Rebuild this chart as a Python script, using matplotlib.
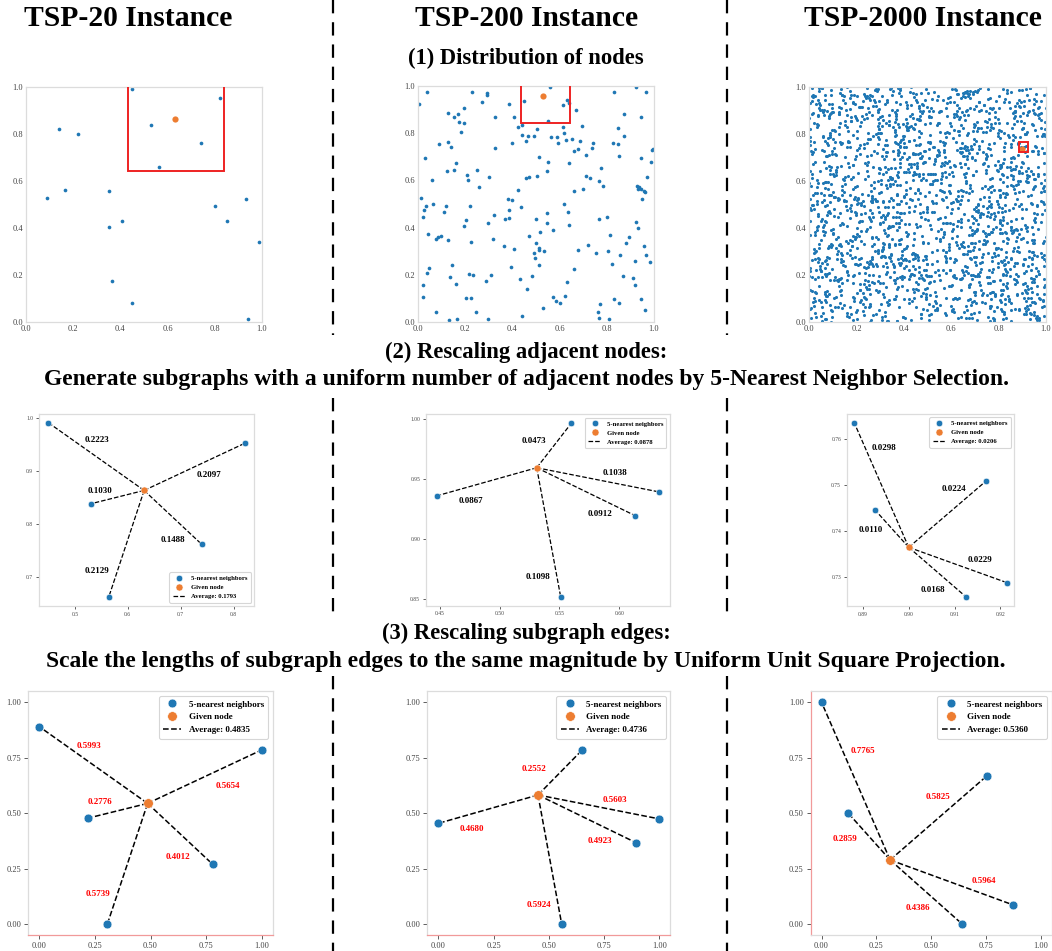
import numpy as np
import matplotlib
matplotlib.use('Agg')
import matplotlib.pyplot as plt
from matplotlib.patches import Rectangle
from matplotlib.lines import Line2D
from matplotlib.ticker import MultipleLocator

plt.rcParams['font.family'] = ['Liberation Serif', 'DejaVu Serif']

# ---------------------------------------------------------------- data
# TSP-20 instance
tsp20_other_x = [0.138, 0.219, 0.165, 0.088, 0.353, 0.405, 0.353, 0.366, 0.448, 0.801, 0.850, 0.931, 0.989, 0.942]
tsp20_other_y = [0.823, 0.800, 0.561, 0.528, 0.559, 0.431, 0.404, 0.175, 0.079, 0.492, 0.428, 0.524, 0.340, 0.013]
tsp20_given = (0.631, 0.863)
tsp20_nb_x = [0.450, 0.821, 0.531, 0.740, 0.564]
tsp20_nb_y = [0.991, 0.952, 0.838, 0.761, 0.661]
tsp20_dist = ["0.2223", "0.2097", "0.1030", "0.1488", "0.2129"]
tsp20_avg = "0.1793"
tsp20_unit_given = (0.487, 0.544)
tsp20_unit_x = [0.000, 1.000, 0.217, 0.780, 0.306]
tsp20_unit_y = [0.890, 0.785, 0.477, 0.269, 0.000]
tsp20_unit_dist = ["0.5993", "0.5654", "0.2776", "0.4012", "0.5739"]
tsp20_unit_avg = "0.4835"

# TSP-200 instance (other nodes)
tsp200_other_x = [
    0.037, 0.006, 0.227, 0.294, 0.294, 0.273, 0.387, 0.196, 0.126, 0.171, 0.153, 0.326, 0.408, 0.174, 0.196,
    0.425, 0.439, 0.181, 0.439, 0.129, 0.090, 0.400, 0.140, 0.328, 0.030, 0.160, 0.124, 0.153, 0.251, 0.206,
    0.210, 0.302, 0.061, 0.258, 0.425, 0.013, 0.383, 0.400,
    0.640, 0.670, 0.616, 0.694, 0.506, 0.468, 0.493, 0.562, 0.589, 0.619, 0.654, 0.686, 0.627, 0.592, 0.458,
    0.743, 0.736, 0.679, 0.660, 0.712, 0.831, 0.925, 0.966, 0.874, 0.945, 0.846, 0.873, 0.828, 0.846, 0.992,
    0.997, 0.852, 0.945, 0.514, 0.552, 0.641, 0.989, 0.775, 0.545, 0.503, 0.472, 0.458, 0.711, 0.729, 0.767,
    0.783, 0.970, 0.927, 0.937, 0.934, 0.945, 0.958, 0.963, 0.661, 0.698, 0.948,
    0.034, 0.027, 0.062, 0.117, 0.112, 0.220, 0.020, 0.041, 0.076, 0.086, 0.097, 0.129, 0.196, 0.203, 0.225,
    0.298, 0.321, 0.316, 0.369, 0.387, 0.387, 0.436, 0.364, 0.408, 0.145, 0.038, 0.048, 0.137, 0.216, 0.232,
    0.020, 0.161, 0.287, 0.311, 0.396, 0.434, 0.020, 0.202, 0.223, 0.076, 0.244, 0.133, 0.167, 0.298, 0.442,
    0.619, 0.545, 0.634, 0.500, 0.545, 0.641, 0.768, 0.802, 0.922, 0.934, 0.517, 0.571, 0.470, 0.814, 0.896,
    0.881, 0.722, 0.958, 0.500, 0.514, 0.514, 0.535, 0.492, 0.679, 0.753, 0.804, 0.857, 0.965, 0.496, 0.824,
    0.921, 0.985, 0.514, 0.662, 0.485, 0.870, 0.912, 0.918, 0.631, 0.463, 0.574, 0.585, 0.600, 0.624, 0.832,
    0.850, 0.945, 0.530, 0.771, 0.764, 0.767, 0.811, 0.963]
tsp200_other_y = [
    0.976, 0.922, 0.973, 0.969, 0.962, 0.934, 0.922, 0.905, 0.886, 0.881, 0.870, 0.867, 0.867, 0.849, 0.842,
    0.828, 0.835, 0.807, 0.794, 0.764, 0.753, 0.757, 0.743, 0.736, 0.696, 0.672, 0.640, 0.643, 0.643, 0.623,
    0.600, 0.614, 0.603, 0.572, 0.558, 0.524, 0.520, 0.517,
    0.927, 0.898, 0.828, 0.832, 0.816, 0.788, 0.788, 0.782, 0.784, 0.801, 0.774, 0.767, 0.771, 0.760, 0.767,
    0.760, 0.737, 0.733, 0.723, 0.706, 0.975, 0.994, 0.973, 0.883, 0.870, 0.821, 0.790, 0.759, 0.756, 0.729,
    0.733, 0.702, 0.696, 0.698, 0.679, 0.675, 0.676, 0.654, 0.638, 0.620, 0.614, 0.612, 0.620, 0.609, 0.597,
    0.578, 0.613, 0.575, 0.572, 0.562, 0.564, 0.555, 0.551, 0.555, 0.562, 0.523,
    0.492, 0.475, 0.500, 0.492, 0.468, 0.492, 0.444, 0.371, 0.350, 0.360, 0.366, 0.346, 0.408, 0.431, 0.340,
    0.418, 0.452, 0.352, 0.438, 0.441, 0.475, 0.486, 0.322, 0.308, 0.240, 0.206, 0.227, 0.189, 0.203, 0.198,
    0.155, 0.160, 0.175, 0.199, 0.232, 0.181, 0.107, 0.103, 0.102, 0.044, 0.041, 0.008, 0.014, 0.011, 0.024,
    0.499, 0.460, 0.465, 0.435, 0.418, 0.411, 0.435, 0.444, 0.424, 0.397, 0.380, 0.390, 0.366, 0.370, 0.359,
    0.333, 0.326, 0.323, 0.335, 0.315, 0.305, 0.302, 0.294, 0.305, 0.291, 0.302, 0.284, 0.284, 0.273, 0.247,
    0.257, 0.254, 0.240, 0.223, 0.195, 0.195, 0.186, 0.157, 0.168, 0.140, 0.107, 0.088, 0.081, 0.109, 0.097,
    0.079, 0.099, 0.058, 0.075, 0.044, 0.016, 0.013, 0.051]
tsp200_given = (0.531, 0.9596)
tsp200_nb_x = [0.560, 0.4477, 0.6328, 0.613, 0.551]
tsp200_nb_y = [0.9969, 0.9362, 0.9395, 0.9197, 0.8518]
tsp200_dist = ["0.0473", "0.0867", "0.1038", "0.0912", "0.1098"]
tsp200_avg = "0.0878"
tsp200_unit_given = (0.451, 0.582)
tsp200_unit_x = [0.649, 0.000, 1.000, 0.894, 0.558]
tsp200_unit_y = [0.783, 0.454, 0.474, 0.367, 0.000]
tsp200_unit_dist = ["0.2552", "0.4680", "0.5603", "0.4923", "0.5924"]
tsp200_unit_avg = "0.4736"

# TSP-2000 instance: 2000 nodes too dense to read individually; drawn as a
# fixed uniform texture (seeded) around the readable subgraph.
tsp2000_n_other = 1994
tsp2000_given = (0.900, 0.7364)
tsp2000_nb_x = [0.8881, 0.8927, 0.9169, 0.9214, 0.9126]
tsp2000_nb_y = [0.7636, 0.7445, 0.7509, 0.7287, 0.7255]
tsp2000_dist = ["0.0298", "0.0110", "0.0224", "0.0229", "0.0168"]
tsp2000_avg = "0.0206"
tsp2000_unit_given = (0.313, 0.289)
tsp2000_unit_x = [0.000, 0.120, 0.756, 0.875, 0.642]
tsp2000_unit_y = [1.000, 0.502, 0.669, 0.086, 0.000]
tsp2000_unit_dist = ["0.7765", "0.2859", "0.5825", "0.5964", "0.4386"]
tsp2000_unit_avg = "0.5360"

col_titles = ["TSP-20 Instance", "TSP-200 Instance", "TSP-2000 Instance"]
sec1 = "(1) Distribution of nodes"
sec2a = "(2) Rescaling adjacent nodes:"
sec2b = "Generate subgraphs with a uniform number of adjacent nodes by 5-Nearest Neighbor Selection."
sec3a = "(3) Rescaling subgraph edges:"
sec3b = "Scale the lengths of subgraph edges to the same magnitude by Uniform Unit Square Projection."

# ---------------------------------------------------------------- style / layout
BLUE = '#1f77b4'
ORANGE = '#ed7d31'
SPINE = '#dcdcdc'
TICKC = '#444444'
REDSPINE = '#f19a9a'

W, H = 1052, 951
fig = plt.figure(figsize=(W / 100, H / 100), dpi=100)


def rect(l, t, r, b):
    return [l / W, 1 - b / H, (r - l) / W, (b - t) / H]


def style_axes(ax, lsize, tlen):
    for s in ax.spines.values():
        s.set_color(SPINE)
        s.set_linewidth(0.9)
    ax.tick_params(labelsize=lsize, length=tlen, width=0.6, colors=TICKC, pad=2)


# label offsets (pixels) from edge midpoints
off2 = [
    [(0.5, -16.5), (15, 8.3), (-17.3, -6.2), (0.3, 22.9), (-29.5, 27.5)],
    [(-20, -4.3), (-15.5, 19.4), (17.5, -7), (14.3, 22.8), (-10.3, 44.9)],
    [(2.1, -37), (-21, 1.6), (6.5, -25.5), (22.7, -4.8), (-5, 17.5)],
]
off3 = [
    [(-4.5, -19), (23.6, 9.3), (-17.7, -8.5), (-1.9, 23.2), (-29.2, 30.3)],
    [(-25.5, -3.7), (-16.5, 19.8), (16.6, -6.7), (13.3, 22.2), (-11.1, 45.5)],
    [(7, -30.5), (-23.7, 3), (-0.2, -21.1), (32.4, -1.8), (-8.2, 16.3)],
]


def subgraph(ax, gx, gy, nx, ny, dists, avg, offs, s_nb, s_g, lw, fs, lab_color, leg_fs, leg_loc):
    for i in range(len(nx)):
        ax.plot([gx, nx[i]], [gy, ny[i]], ls='--', color='black', lw=lw, zorder=1)
    ax.scatter(nx, ny, s=s_nb, color=BLUE, edgecolors='white', linewidths=0.4, zorder=3)
    ax.scatter([gx], [gy], s=s_g, color=ORANGE, edgecolors='white', linewidths=0.4, zorder=4)
    for i in range(len(nx)):
        mx, my = (gx + nx[i]) / 2, (gy + ny[i]) / 2
        dx, dy = offs[i]
        ax.annotate(dists[i], (mx, my), xytext=(dx, -dy), textcoords='offset pixels',
                    ha='center', va='center', fontsize=fs, fontweight='bold', color=lab_color)
    handles = [
        Line2D([], [], ls='none', marker='o', color=BLUE, markersize=np.sqrt(s_nb), markeredgecolor='white', markeredgewidth=0.4),
        Line2D([], [], ls='none', marker='o', color=ORANGE, markersize=np.sqrt(s_g), markeredgecolor='white', markeredgewidth=0.4),
        Line2D([], [], ls='--', color='black', lw=lw),
    ]
    leg = ax.legend(handles, ['5-nearest neighbors', 'Given node', f'Average: {avg}'],
                    loc=leg_loc, prop={'weight': 'bold', 'size': leg_fs}, frameon=True,
                    borderpad=0.5, labelspacing=0.5, handlelength=2.0)
    leg.get_frame().set_edgecolor('#cccccc')
    leg.get_frame().set_linewidth(0.8)


# ---------------- row 2 (subgraphs in original coordinates)
row2_cells = [(24.5, 268.5), (425.8, 669.8), (809.0, 1052.0)]
row2_major = [0.1, 0.05, 0.01]
row2_data = [
    (tsp20_given, tsp20_nb_x, tsp20_nb_y, tsp20_dist, tsp20_avg, 'lower right'),
    (tsp200_given, tsp200_nb_x, tsp200_nb_y, tsp200_dist, tsp200_avg, 'upper right'),
    (tsp2000_given, tsp2000_nb_x, tsp2000_nb_y, tsp2000_dist, tsp2000_avg, 'upper right'),
]
row2_axes = []
for k, (cell, (g, nx, ny, d, a, loc)) in enumerate(zip(row2_cells, row2_data)):
    ax = fig.add_axes(rect(cell[0], 414, cell[1], 606))
    subgraph(ax, g[0], g[1], nx, ny, d, a, off2[k], s_nb=22, s_g=26, lw=0.9, fs=6.5,
             lab_color='black', leg_fs=4.8, leg_loc=loc)
    ax.set_aspect('equal', adjustable='box')
    ax.set_anchor('C')
    ax.xaxis.set_major_locator(MultipleLocator(row2_major[k]))
    ax.yaxis.set_major_locator(MultipleLocator(row2_major[k]))
    style_axes(ax, 4, 2)
    row2_axes.append(ax)

# ---------------- row 1 (whole instances)
row1_rects = [(26, 87, 262, 322), (418, 86, 654, 322), (809, 87, 1046, 322)]
others = [
    (np.array(tsp20_other_x), np.array(tsp20_other_y)),
    (np.array(tsp200_other_x), np.array(tsp200_other_y)),
    None,
]
rng = np.random.default_rng(7)
tex = rng.random((tsp2000_n_other, 2))
others[2] = (tex[:, 0], tex[:, 1])
row1_given = [tsp20_given, tsp200_given, tsp2000_given]
row1_nb = [(tsp20_nb_x, tsp20_nb_y), (tsp200_nb_x, tsp200_nb_y), (tsp2000_nb_x, tsp2000_nb_y)]
dot_s = [7, 7, 5]
for k in range(3):
    ax = fig.add_axes(rect(*row1_rects[k]))
    ox, oy = others[k]
    px = np.concatenate([ox, row1_nb[k][0]])
    py = np.concatenate([oy, row1_nb[k][1]])
    ax.scatter(px, py, s=dot_s[k], color=BLUE, linewidths=0, zorder=2)
    ax.scatter([row1_given[k][0]], [row1_given[k][1]], s=20, color=ORANGE, linewidths=0, zorder=3)
    x0, x1 = row2_axes[k].get_xlim()
    y0, y1 = row2_axes[k].get_ylim()
    ax.add_patch(Rectangle((x0, y0), x1 - x0, y1 - y0, fill=False, ec='#ee2222', lw=1.4, zorder=4))
    ax.set_xlim(0, 1)
    ax.set_ylim(0, 1)
    ax.xaxis.set_major_locator(MultipleLocator(0.2))
    ax.yaxis.set_major_locator(MultipleLocator(0.2))
    style_axes(ax, 6, 0)

# ---------------- row 3 (unit square projection)
row3_rects = [(28.2, 691.2, 272.8, 935.1), (427.3, 691.2, 670.4, 935.1), (810.6, 691.2, 1051.5, 935.1)]
row3_data = [
    (tsp20_unit_given, tsp20_unit_x, tsp20_unit_y, tsp20_unit_dist, tsp20_unit_avg),
    (tsp200_unit_given, tsp200_unit_x, tsp200_unit_y, tsp200_unit_dist, tsp200_unit_avg),
    (tsp2000_unit_given, tsp2000_unit_x, tsp2000_unit_y, tsp2000_unit_dist, tsp2000_unit_avg),
]
for k, (r, (g, nx, ny, d, a)) in enumerate(zip(row3_rects, row3_data)):
    ax = fig.add_axes(rect(*r))
    subgraph(ax, g[0], g[1], nx, ny, d, a, off3[k], s_nb=40, s_g=48, lw=1.1, fs=6.5,
             lab_color='red', leg_fs=6.5, leg_loc='upper right')
    ax.set_xlim(-0.05, 1.05)
    ax.set_ylim(-0.05, 1.05)
    ax.xaxis.set_major_locator(MultipleLocator(0.25))
    ax.yaxis.set_major_locator(MultipleLocator(0.25))
    ax.xaxis.set_major_formatter('{x:.2f}')
    ax.yaxis.set_major_formatter('{x:.2f}')
    style_axes(ax, 6, 3)
    if k < 2:
        ax.spines['bottom'].set_color(REDSPINE)
    else:
        ax.spines['left'].set_color(REDSPINE)

# ---------------- titles
for x, t in zip([128.5, 527, 923], col_titles):
    fig.text(x / W, 1 - 19 / H, t, ha='center', va='center', fontsize=21.3, fontweight='bold')
fig.text(526 / W, 1 - 58 / H, sec1, ha='center', va='center', fontsize=16.3, fontweight='bold')
fig.text(526 / W, 1 - 352 / H, sec2a, ha='center', va='center', fontsize=16.3, fontweight='bold')
fig.text(526 / W, 1 - 380 / H, sec2b, ha='center', va='center', fontsize=17, fontweight='bold')
fig.text(526 / W, 1 - 633 / H, sec3a, ha='center', va='center', fontsize=16.3, fontweight='bold')
fig.text(526 / W, 1 - 661 / H, sec3b, ha='center', va='center', fontsize=17, fontweight='bold')

# ---------------- dashed column separators
for xs in [333, 727]:
    for (ya, yb) in [(0, 335), (398, 614), (676, 951)]:
        fig.add_artist(Line2D([xs / W, xs / W], [1 - ya / H, 1 - yb / H], transform=fig.transFigure,
                              color='black', lw=1.6, ls=(0, (6, 4))))

fig.savefig('out.png', dpi=100)
